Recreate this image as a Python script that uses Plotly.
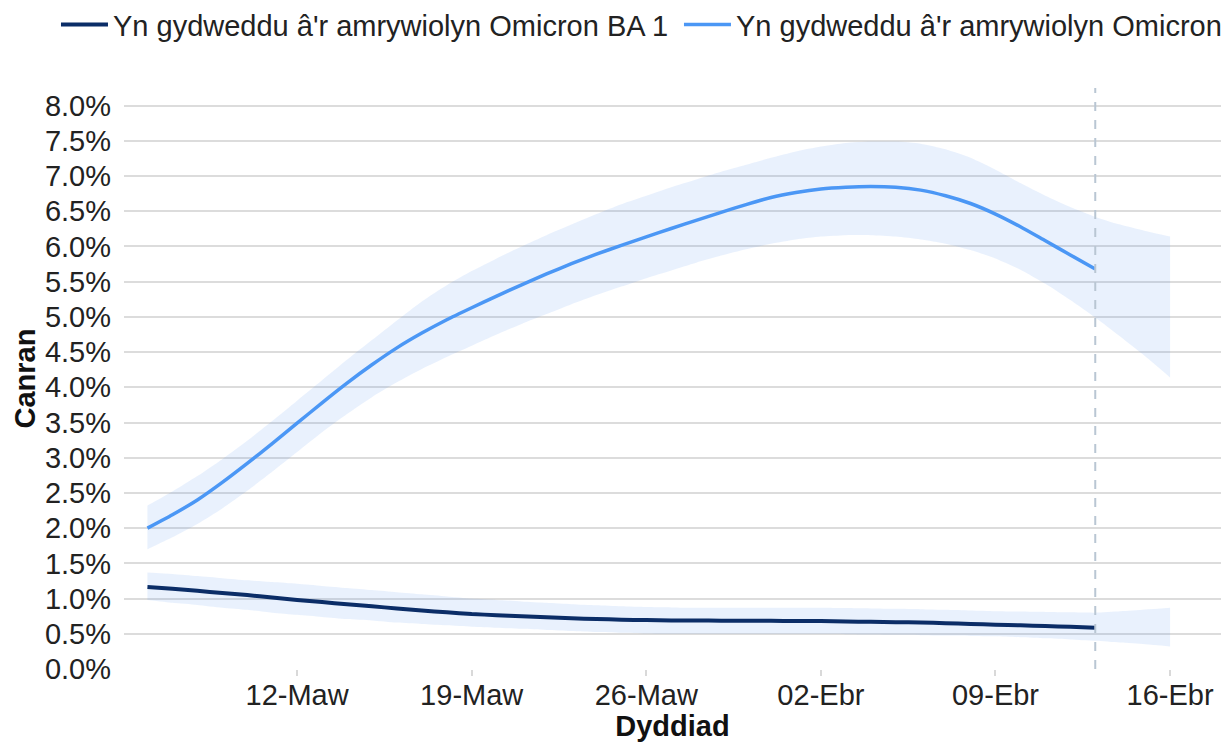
import pandas as pd
import plotly.graph_objects as go

# ---- data ----
line_dates = pd.date_range("2022-03-06", "2022-04-13", freq="D")
band_dates = pd.date_range("2022-03-06", "2022-04-16", freq="D")

ba1_label = "Yn gydweddu â'r amrywiolyn Omicron BA 1"
ba2_label = "Yn gydweddu â'r amrywiolyn Omicron"

ba2_line = [2.00, 2.19, 2.40, 2.65, 2.92, 3.20, 3.49, 3.78, 4.06, 4.32,
            4.56, 4.77, 4.96, 5.13, 5.295, 5.455, 5.61, 5.755, 5.89, 6.015,
            6.135, 6.255, 6.37, 6.485, 6.595, 6.695, 6.765, 6.815, 6.84, 6.85,
            6.84, 6.80, 6.72, 6.61, 6.46, 6.28, 6.08, 5.88, 5.68]
ba2_upper = [2.32, 2.52, 2.74, 2.98, 3.24, 3.52, 3.81, 4.10, 4.39, 4.67,
             4.95, 5.22, 5.45, 5.65, 5.83, 6.00, 6.16, 6.31, 6.46, 6.60,
             6.72, 6.84, 6.95, 7.06, 7.16, 7.26, 7.35, 7.42, 7.47, 7.49,
             7.49, 7.46, 7.38, 7.26, 7.09, 6.90, 6.72, 6.56, 6.42, 6.31,
             6.22, 6.14]
ba2_lower = [1.70, 1.87, 2.06, 2.28, 2.53, 2.80, 3.08, 3.36, 3.62, 3.86,
             4.07, 4.26, 4.43, 4.59, 4.75, 4.90, 5.04, 5.18, 5.31, 5.43,
             5.55, 5.66, 5.77, 5.87, 5.96, 6.04, 6.10, 6.14, 6.16, 6.16,
             6.14, 6.10, 6.04, 5.95, 5.83, 5.67, 5.47, 5.24, 4.99, 4.72,
             4.44, 4.14]

ba1_line = [1.165, 1.14, 1.11, 1.08, 1.05, 1.015, 0.98, 0.95, 0.92, 0.89,
            0.86, 0.83, 0.805, 0.78, 0.765, 0.75, 0.735, 0.72, 0.71, 0.70,
            0.695, 0.69, 0.69, 0.685, 0.685, 0.685, 0.68, 0.68, 0.675, 0.67,
            0.665, 0.66, 0.65, 0.64, 0.63, 0.62, 0.61, 0.60, 0.585]
ba1_upper = [1.37, 1.35, 1.32, 1.29, 1.26, 1.235, 1.21, 1.18, 1.15, 1.12,
             1.09, 1.06, 1.03, 1.00, 0.98, 0.96, 0.94, 0.92, 0.905, 0.89,
             0.88, 0.875, 0.87, 0.87, 0.87, 0.87, 0.87, 0.87, 0.865, 0.86,
             0.855, 0.85, 0.84, 0.83, 0.82, 0.815, 0.81, 0.805, 0.80, 0.82,
             0.845, 0.87]
ba1_lower = [0.98, 0.94, 0.91, 0.87, 0.84, 0.80, 0.77, 0.74, 0.71, 0.69,
             0.66, 0.64, 0.62, 0.60, 0.585, 0.57, 0.555, 0.54, 0.525, 0.515,
             0.505, 0.50, 0.50, 0.50, 0.50, 0.50, 0.50, 0.50, 0.495, 0.49,
             0.485, 0.48, 0.475, 0.47, 0.465, 0.45, 0.435, 0.42, 0.40, 0.375,
             0.35, 0.32]

tick_dates = ["2022-03-12", "2022-03-19", "2022-03-26", "2022-04-02", "2022-04-09", "2022-04-16"]
tick_labels = ["12-Maw", "19-Maw", "26-Maw", "02-Ebr", "09-Ebr", "16-Ebr"]
y_ticks = [i * 0.5 for i in range(17)]
y_tick_labels = [f"{v:.1f}%" for v in y_ticks]
cutoff_date = "2022-04-13"

# ---- styles ----
FONT = "Liberation Sans, Arial, sans-serif"
FS = 29
BAND = "rgba(70,140,240,0.12)"
C_BA1 = "#0b2d67"
C_BA2 = "#4b97f5"

fig = go.Figure()

for lower, upper in [(ba1_lower, ba1_upper), (ba2_lower, ba2_upper)]:
    fig.add_trace(go.Scatter(x=band_dates, y=lower, mode="lines",
                             line=dict(width=0, shape="spline", smoothing=0.6),
                             showlegend=False, hoverinfo="skip"))
    fig.add_trace(go.Scatter(x=band_dates, y=upper, mode="lines", fill="tonexty",
                             fillcolor=BAND,
                             line=dict(width=0, shape="spline", smoothing=0.6),
                             showlegend=False, hoverinfo="skip"))

fig.add_trace(go.Scatter(x=line_dates, y=ba1_line, mode="lines", name=ba1_label,
                         legend="legend",
                         line=dict(color=C_BA1, width=4, shape="spline", smoothing=0.6)))
fig.add_trace(go.Scatter(x=line_dates, y=ba2_line, mode="lines", name=ba2_label,
                         legend="legend2",
                         line=dict(color=C_BA2, width=3.5, shape="spline", smoothing=0.6)))

fig.add_shape(type="line", xref="x", yref="paper", x0=cutoff_date, x1=cutoff_date,
              y0=0, y1=1, line=dict(color="#b9c6d3", width=2, dash="dash"), layer="above")

legend_common = dict(orientation="h", xanchor="left", y=1.153, yanchor="top",
                     font=dict(size=FS), itemwidth=47, bgcolor="rgba(0,0,0,0)")

fig.update_layout(
    width=1221, height=734,
    margin=dict(l=116, r=8, t=80, b=73, autoexpand=False),
    paper_bgcolor="white", plot_bgcolor="white",
    font=dict(family=FONT, size=FS, color="#222222"),
    legend=dict(x=-0.062, **legend_common),
    legend2=dict(x=0.5059, **legend_common),
    showlegend=True,
)

fig.update_xaxes(
    range=["2022-03-05 01:26", "2022-04-18 01:00"],
    tickvals=tick_dates, ticktext=tick_labels,
    ticks="outside", ticklen=6, tickcolor="#d9d9d9", tickwidth=1.5,
    showgrid=False, zeroline=False, showline=False, automargin=False,
    ticklabelstandoff=-6,
    tickfont=dict(size=FS, color="#222222"),
    title=dict(text="<b>Dyddiad</b>", font=dict(size=FS, color="#111111"), standoff=11),
)
fig.update_yaxes(
    range=[0, 8.25],
    tickvals=y_ticks, ticktext=y_tick_labels,
    showgrid=True, gridcolor="#dcdcdc", gridwidth=2,
    zeroline=False, showline=False, ticks="", automargin=False,
    ticklabelstandoff=12,
    tickfont=dict(size=FS, color="#222222"),
    title=dict(text="<b>Canran</b>", font=dict(size=FS, color="#111111"), standoff=0),
)

fig.write_html("out.html")
